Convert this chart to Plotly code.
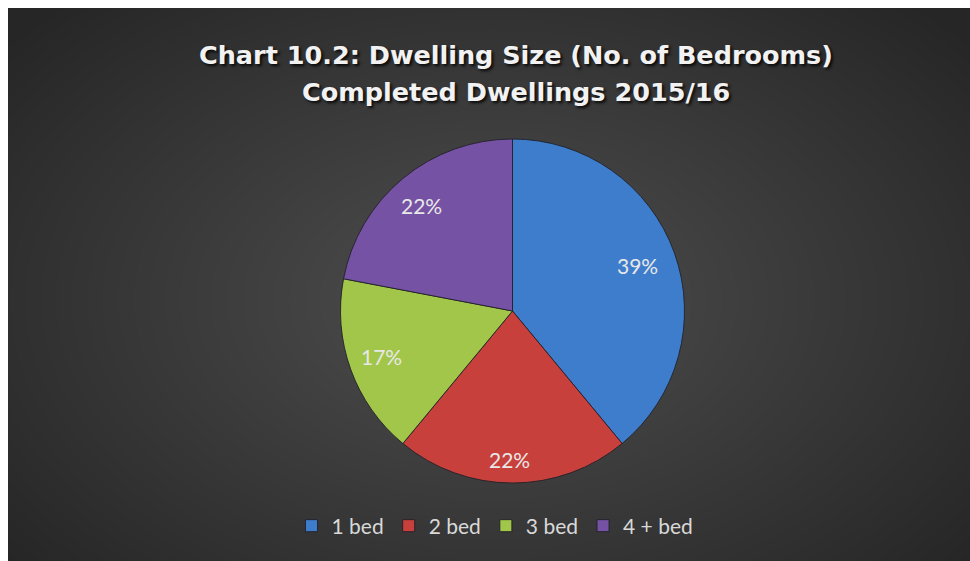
import math
import plotly.graph_objects as go

categories = ["1 bed", "2 bed", "3 bed", "4 + bed"]
shares = [39, 22, 17, 22]
colors = ["#3E7DCC", "#C8403C", "#A2C64A", "#7552A3"]
title_line1 = "Chart 10.2: Dwelling Size (No. of Bedrooms)"
title_line2 = "Completed Dwellings 2015/16"

W, H = 970, 561
CX, CY, R = 512.5, 311.0, 172.0  # pie placement in pixels (layout, not data)

fig = go.Figure()
fig.add_trace(go.Pie(
    labels=categories,
    values=shares,
    sort=False,
    direction="clockwise",
    rotation=0,
    marker=dict(colors=colors, line=dict(color="rgba(30,30,40,0.85)", width=1)),
    textinfo="none",
    domain=dict(x=[(CX - R) / W, (CX + R) / W], y=[1 - (CY + R) / H, 1 - (CY - R) / H]),
    hoverinfo="label+percent",
))

# percentage labels placed inside each slice near its outer edge ("best fit")
total = sum(shares)
annotations = []
cum = 0
for v in shares:
    mid = (cum + v / 2) / total * 2 * math.pi
    cum += v
    s, c = math.sin(mid), math.cos(mid)
    inset = 20 * abs(s) + 10 * abs(c) + 14
    rr = R - inset
    px, py = CX + rr * s, CY - rr * c
    annotations.append(dict(text=f"{round(v / total * 100)}%", xref="paper", yref="paper",
                            x=(px - 3) / W, y=1 - py / H, xanchor="center", yanchor="middle",
                            showarrow=False,
                            font=dict(family="Lato", size=21, color="#E8E8E8")))

shapes = []
shapes.append(dict(type="rect", xref="paper", yref="paper", x0=8 / W, x1=1, y0=0, y1=1 - 8 / H,
                   fillcolor="#262626", line=dict(width=0), layer="below"))
N = 40
gx, gy = 490 / W, 1 - 300 / H
for i in range(N):
    k = 1 - i / N
    rx = 620 * k / W
    ry = 400 * k / H
    shapes.append(dict(type="circle", xref="paper", yref="paper",
                       x0=gx - rx, x1=gx + rx, y0=gy - ry, y1=gy + ry,
                       fillcolor="rgba(255,255,255,0.0076)", line=dict(width=0), layer="below"))
shapes.append(dict(type="rect", xref="paper", yref="paper", x0=0, x1=8 / W, y0=0, y1=1,
                   fillcolor="white", line=dict(width=0), layer="above"))
shapes.append(dict(type="rect", xref="paper", yref="paper", x0=0, x1=1, y0=1 - 8 / H, y1=1,
                   fillcolor="white", line=dict(width=0), layer="above"))

title_font = dict(family="DejaVu Sans", size=25.5, color="#F2F2F2", weight="bold",
                  shadow="2px 2px 3px rgba(0,0,0,0.85)")
annotations += [
    dict(text=title_line1, xref="paper", yref="paper", x=516 / W, y=1 - 55 / H,
         xanchor="center", yanchor="middle", showarrow=False, font=title_font),
    dict(text=title_line2, xref="paper", yref="paper", x=516 / W, y=1 - 92 / H,
         xanchor="center", yanchor="middle", showarrow=False, font=title_font),
]

fig.update_layout(
    width=W, height=H,
    margin=dict(l=0, r=0, t=0, b=0),
    paper_bgcolor="white",
    plot_bgcolor="rgba(0,0,0,0)",
    shapes=shapes,
    showlegend=True,
    legend=dict(orientation="h", x=495 / W, xanchor="center", y=1 - 526 / H, yanchor="middle",
                font=dict(family="Lato", size=21, color="#D9D9D9"),
                bgcolor="rgba(0,0,0,0)", traceorder="normal"),
    annotations=annotations,
)

fig.write_html("out.html")
